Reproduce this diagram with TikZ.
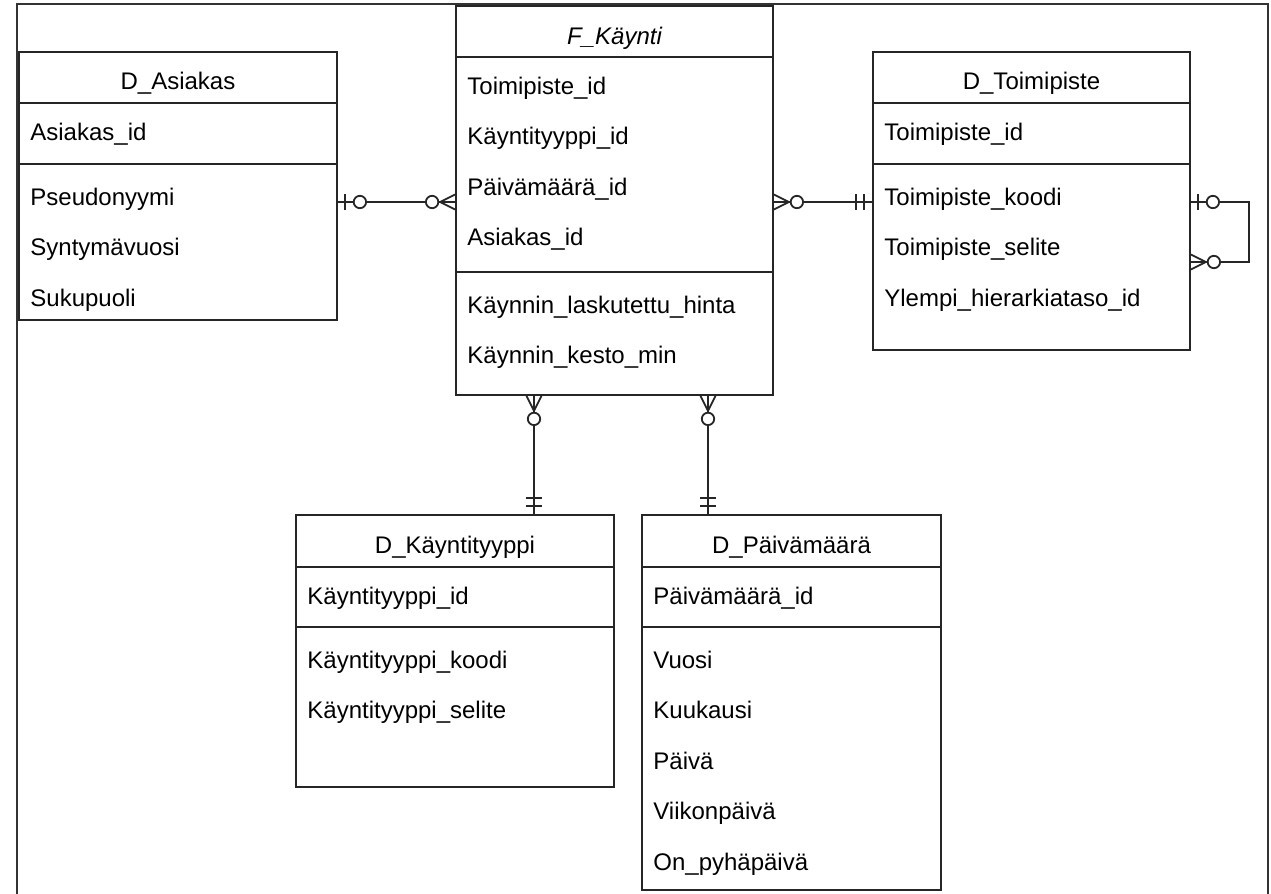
\documentclass[tikz,border=0pt]{standalone}
\usepackage{fontspec}
\setmainfont{Liberation Sans}
\usetikzlibrary{fit}

\tikzset{
  table/.style={draw=black!85, line width=0.9pt, inner sep=0pt},
  head/.style={anchor=base, inner sep=0pt, font=\fontsize{12}{14}\selectfont},
  row/.style={anchor=base west, inner sep=0pt, font=\fontsize{12}{14}\selectfont},
  sep/.style={draw=black!85, line width=0.9pt},
  link/.style={draw=black!85, line width=0.9pt},
  pics/zeroone/.style={code={
    \draw[link] (7,-8) -- (7,8);
    \draw[link, fill=white] (22,0) circle (3.1pt);
  }},
  pics/zeromany/.style={code={
    \draw[link] (0,-7.5) -- (15,0) (0,7.5) -- (15,0);
    \draw[link, fill=white] (23,0) circle (3.1pt);
  }},
  pics/onlyone/.style={code={
    \draw[link] (8,-8) -- (8,8) (16,-8) -- (16,8);
  }}
}

\begin{document}
\begin{tikzpicture}[x=0.5pt, y=-0.5pt]
\useasboundingbox (0,0) rectangle (1271,894);
% frame
\draw[draw=black!80, line width=1pt] (17,894) -- (17,4) -- (1268,4) -- (1268,894);

% D_Asiakas
\node[table, fit={(19,52) (337,320)}] (asiakas) {};
\node[head] (asiakas-h) at (178,90) {D\_Asiakas};
\draw[sep] (asiakas.west |- 0,103) -- (asiakas.east |- 0,103);
\node[row] (asiakas-k) at (30,140) {Asiakas\_id};
\draw[sep] (asiakas.west |- 0,164) -- (asiakas.east |- 0,164);
\foreach \t [count=\i] in {Pseudonyymi, Syntymävuosi, Sukupuoli}
  \node[row] (asiakas-\i) at (30,154.5+50.5*\i) {\t};

% F_Kaynti
\node[table, fit={(456,6) (773,395)}] (kaynti) {};
\node[head, font=\fontsize{12}{14}\selectfont\itshape] (kaynti-h) at (614.5,44) {F\_Käynti};
\draw[sep] (kaynti.west |- 0,57) -- (kaynti.east |- 0,57);
\foreach \t [count=\i] in {Toimipiste\_id, Käyntityyppi\_id, Päivämäärä\_id, Asiakas\_id}
  \node[row] (kaynti-k\i) at (467,43.5+50.5*\i) {\t};
\draw[sep] (kaynti.west |- 0,272) -- (kaynti.east |- 0,272);
\foreach \t [count=\i] in {Käynnin\_laskutettu\_hinta, Käynnin\_kesto\_min}
  \node[row] (kaynti-\i) at (467,262.5+50.5*\i) {\t};

% D_Toimipiste
\node[table, fit={(873,52) (1190,350)}] (toimi) {};
\node[head] (toimi-h) at (1031.5,90) {D\_Toimipiste};
\draw[sep] (toimi.west |- 0,103) -- (toimi.east |- 0,103);
\node[row] (toimi-k) at (884,140) {Toimipiste\_id};
\draw[sep] (toimi.west |- 0,164) -- (toimi.east |- 0,164);
\foreach \t [count=\i] in {Toimipiste\_koodi, Toimipiste\_selite, Ylempi\_hierarkiataso\_id}
  \node[row] (toimi-\i) at (884,154.5+50.5*\i) {\t};

% D_Kayntityyppi
\node[table, fit={(296,515) (614,787)}] (tyyppi) {};
\node[head] (tyyppi-h) at (455,553) {D\_Käyntityyppi};
\draw[sep] (tyyppi.west |- 0,567) -- (tyyppi.east |- 0,567);
\node[row] (tyyppi-k) at (307,604) {Käyntityyppi\_id};
\draw[sep] (tyyppi.west |- 0,627) -- (tyyppi.east |- 0,627);
\foreach \t [count=\i] in {Käyntityyppi\_koodi, Käyntityyppi\_selite}
  \node[row] (tyyppi-\i) at (307,617.5+50.5*\i) {\t};

% D_Paivamaara
\node[table, fit={(642,515) (941,890)}] (pvm) {};
\node[head] (pvm-h) at (791.5,553) {D\_Päivämäärä};
\draw[sep] (pvm.west |- 0,567) -- (pvm.east |- 0,567);
\node[row] (pvm-k) at (653,604) {Päivämäärä\_id};
\draw[sep] (pvm.west |- 0,627) -- (pvm.east |- 0,627);
\foreach \t [count=\i] in {Vuosi, Kuukausi, Päivä, Viikonpäivä, On\_pyhäpäivä}
  \node[row] (pvm-\i) at (653,617.5+50.5*\i) {\t};

% relations
\draw[link] (asiakas.east |- 0,202) -- (kaynti.west |- 0,202);
\pic at (asiakas.east |- 0,202) {zeroone};
\pic[rotate=180] at (kaynti.west |- 0,202) {zeromany};

\draw[link] (kaynti.east |- 0,202) -- (toimi.west |- 0,202);
\pic at (kaynti.east |- 0,202) {zeromany};
\pic[rotate=180] at (toimi.west |- 0,202) {onlyone};

% self reference
\coordinate (loop-a) at (1249,202);
\coordinate (loop-b) at (1249,262);
\draw[link] (toimi.east |- loop-a) -- (loop-a) -- (loop-b) -- (toimi.east |- loop-b);
\pic at (toimi.east |- loop-a) {zeroone};
\pic at (toimi.east |- loop-b) {zeromany};

\draw[link] (kaynti.south -| 534,0) -- (tyyppi.north -| 534,0);
\pic[rotate=-90] at (kaynti.south -| 534,0) {zeromany};
\pic[rotate=90] at (tyyppi.north -| 534,0) {onlyone};

\draw[link] (kaynti.south -| 708,0) -- (pvm.north -| 708,0);
\pic[rotate=-90] at (kaynti.south -| 708,0) {zeromany};
\pic[rotate=90] at (pvm.north -| 708,0) {onlyone};
\end{tikzpicture}
\end{document}
